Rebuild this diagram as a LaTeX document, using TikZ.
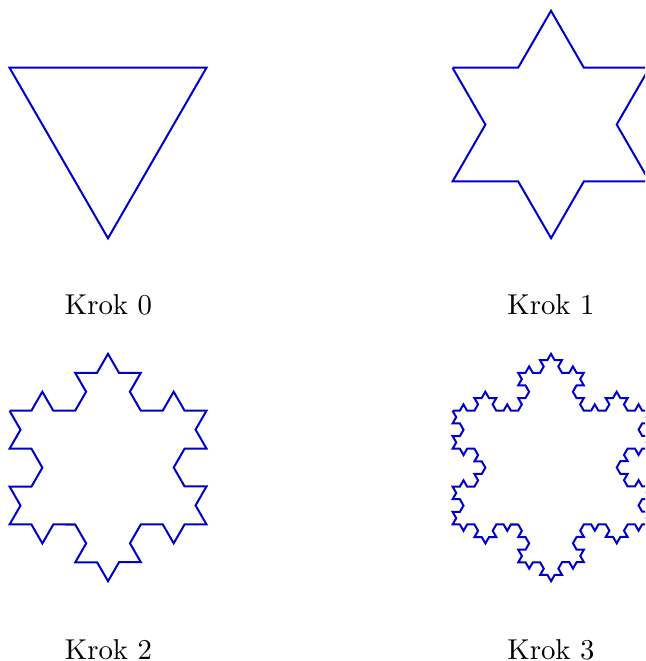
\documentclass[tikz,border=0pt]{standalone}
\usetikzlibrary{decorations.fractals}
\begin{document}
\begin{tikzpicture}[x=0.348pt,y=-0.348pt,
  flake/.style={draw=blue!80!black, line width=0.7pt, line join=miter, decoration=Koch snowflake},
  lbl/.style={anchor=base}]
\useasboundingbox (0,0) rectangle (645,661);
\clip (0,0) rectangle (645,661);
% step 0
\coordinate (a0) at (9.5,67.7);
\coordinate (b0) at (206.5,67.7);
\coordinate (c0) at (108,238.3);
\draw[flake] (a0) -- (b0) -- (c0) -- cycle;
% step 1
\coordinate (a1) at (452.5,67.7);
\coordinate (b1) at (649.5,67.7);
\coordinate (c1) at (551,238.3);
\draw[flake] decorate{(a1) -- (b1) -- (c1) -- cycle};
% step 2
\coordinate (a2) at (9.5,410.7);
\coordinate (b2) at (206.5,410.7);
\coordinate (c2) at (108,581.3);
\draw[flake] decorate{decorate{(a2) -- (b2) -- (c2) -- cycle}};
% step 3
\coordinate (a3) at (452.5,410.7);
\coordinate (b3) at (649.5,410.7);
\coordinate (c3) at (551,581.3);
\draw[flake] decorate{decorate{decorate{(a3) -- (b3) -- (c3) -- cycle}}};
% labels
\node[lbl] (k0) at (108.5,315) {Krok 0};
\node[lbl] (k1) at (551,315) {Krok 1};
\node[lbl] (k2) at (108.5,659) {Krok 2};
\node[lbl] (k3) at (551,659) {Krok 3};
\end{tikzpicture}
\end{document}
